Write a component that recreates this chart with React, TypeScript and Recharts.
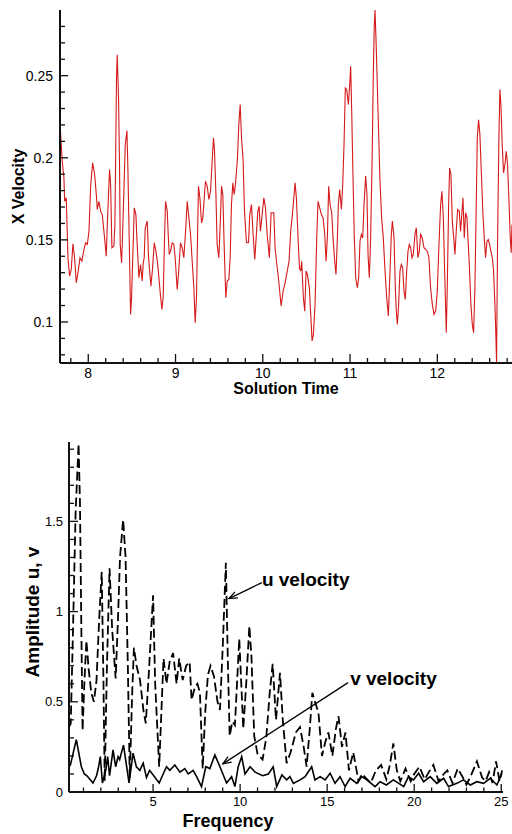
import React from 'react';
import { LineChart, Line, XAxis, YAxis, ReferenceLine, ReferenceDot } from 'recharts';

// ---------- Top chart: X Velocity vs Solution Time ----------
const solutionTime = [
  7.676, 7.702, 7.721, 7.729, 7.748, 7.767, 7.786, 7.805, 7.824, 7.843,
  7.863, 7.885, 7.905, 7.927, 7.947, 7.969, 7.989, 8.008, 8.027, 8.05,
  8.073, 8.095, 8.103, 8.122, 8.141, 8.16, 8.187, 8.206, 8.218, 8.244,
  8.256, 8.271, 8.294, 8.305, 8.317, 8.324, 8.332, 8.347, 8.359, 8.366,
  8.382, 8.393, 8.408, 8.424, 8.443, 8.454, 8.469, 8.485, 8.496, 8.511,
  8.527, 8.546, 8.557, 8.58, 8.599, 8.618, 8.63, 8.641, 8.653, 8.676,
  8.691, 8.718, 8.737, 8.756, 8.775, 8.794, 8.813, 8.828, 8.844, 8.859,
  8.874, 8.886, 8.905, 8.916, 8.928, 8.943, 8.962, 8.981, 8.996, 9.019,
  9.034, 9.057, 9.076, 9.095, 9.115, 9.134, 9.153, 9.172, 9.191, 9.21,
  9.225, 9.24, 9.252, 9.263, 9.279, 9.298, 9.313, 9.328, 9.343, 9.363,
  9.382, 9.401, 9.42, 9.435, 9.447, 9.462, 9.477, 9.496, 9.515, 9.527,
  9.542, 9.557, 9.576, 9.592, 9.611, 9.626, 9.641, 9.657, 9.672, 9.687,
  9.71, 9.725, 9.741, 9.756, 9.775, 9.79, 9.813, 9.836, 9.851, 9.87,
  9.889, 9.908, 9.924, 9.943, 9.958, 9.973, 9.989, 10.012, 10.031, 10.05,
  10.076, 10.095, 10.126, 10.141, 10.157, 10.179, 10.21, 10.233, 10.256,
  10.301, 10.32, 10.339, 10.359, 10.37, 10.385, 10.404, 10.42, 10.435, 10.446,
  10.465, 10.481, 10.496, 10.511, 10.534, 10.549, 10.565, 10.58, 10.599, 10.618,
  10.633, 10.652, 10.672, 10.691, 10.71, 10.725, 10.74, 10.755, 10.771, 10.79,
  10.805, 10.824, 10.839, 10.855, 10.866, 10.881, 10.901, 10.916, 10.931, 10.946,
  10.962, 10.981, 10.996, 11.007, 11.019, 11.034, 11.049, 11.065, 11.084, 11.099,
  11.114, 11.13, 11.145, 11.16, 11.179, 11.194, 11.206, 11.221, 11.236, 11.252,
  11.267, 11.278, 11.286, 11.297, 11.309, 11.324, 11.343, 11.362, 11.381, 11.401,
  11.42, 11.439, 11.458, 11.473, 11.485, 11.504, 11.519, 11.53, 11.542, 11.557,
  11.572, 11.588, 11.603, 11.618, 11.633, 11.649, 11.664, 11.679, 11.694, 11.71,
  11.725, 11.744, 11.759, 11.778, 11.794, 11.809, 11.828, 11.847, 11.866, 11.885,
  11.904, 11.923, 11.943, 11.962, 11.981, 12.0, 12.019, 12.038, 12.053, 12.069,
  12.084, 12.103, 12.114, 12.13, 12.141, 12.156, 12.172, 12.191, 12.202, 12.217,
  12.233, 12.252, 12.267, 12.278, 12.294, 12.309, 12.324, 12.34, 12.355, 12.37,
  12.385, 12.401, 12.416, 12.431, 12.446, 12.458, 12.473, 12.488, 12.504, 12.523,
  12.538, 12.553, 12.569, 12.584, 12.599, 12.614, 12.63, 12.645, 12.66, 12.672,
  12.679, 12.691, 12.706, 12.717, 12.729, 12.744, 12.759, 12.775, 12.79, 12.805,
  12.82, 12.836, 12.847, 12.856,
];

const xVelocity = [
  0.2212, 0.1979, 0.1877, 0.1735, 0.1756, 0.1391, 0.1279, 0.132, 0.1476, 0.1391,
  0.1239, 0.131, 0.1391, 0.137, 0.1431, 0.1482, 0.1472, 0.1553, 0.1827, 0.1969,
  0.1898, 0.1756, 0.1685, 0.1735, 0.1675, 0.1654, 0.1512, 0.1401, 0.1594, 0.1928,
  0.1837, 0.1452, 0.1462, 0.1594, 0.2161, 0.2496, 0.2628, 0.2364, 0.1918, 0.1472,
  0.136, 0.1533, 0.1796, 0.208, 0.2165, 0.1938, 0.1512, 0.1046, 0.1147, 0.1411,
  0.1695, 0.1654, 0.1512, 0.1269, 0.135, 0.1249, 0.136, 0.1391, 0.1573, 0.1614,
  0.1391, 0.1218, 0.133, 0.1482, 0.1431, 0.136, 0.1249, 0.1158, 0.1076, 0.1158,
  0.1512, 0.1735, 0.1675, 0.1533, 0.1411, 0.1431, 0.1482, 0.1472, 0.1391, 0.1198,
  0.1289, 0.1482, 0.1452, 0.1391, 0.1553, 0.1735, 0.1634, 0.1533, 0.137, 0.1208,
  0.0995, 0.1147, 0.1512, 0.1827, 0.1756, 0.1604, 0.1634, 0.1746, 0.1857, 0.1827,
  0.1746, 0.1796, 0.1979, 0.2121, 0.204, 0.1796, 0.1472, 0.1391, 0.1634, 0.1827,
  0.1776, 0.1472, 0.1147, 0.1249, 0.1259, 0.1391, 0.1715, 0.1847, 0.1776, 0.1837,
  0.1999, 0.2202, 0.2324, 0.2121, 0.1979, 0.1675, 0.1482, 0.1482, 0.1654, 0.1715,
  0.1533, 0.1381, 0.1512, 0.1675, 0.1705, 0.1553, 0.1634, 0.1756, 0.1695, 0.1533,
  0.1391, 0.1665, 0.1665, 0.1452, 0.137, 0.1269, 0.1097, 0.1188, 0.1239,
  0.137, 0.1553, 0.1654, 0.1776, 0.1847, 0.1756, 0.1512, 0.133, 0.131, 0.137,
  0.1147, 0.1066, 0.131, 0.1289, 0.1208, 0.1046, 0.0884, 0.0924, 0.1107, 0.1512,
  0.1735, 0.1695, 0.1654, 0.1634, 0.1533, 0.137, 0.1512, 0.1827, 0.1715, 0.1665,
  0.1512, 0.137, 0.1289, 0.1512, 0.1715, 0.1806, 0.1685, 0.1837, 0.208, 0.2425,
  0.2415, 0.2324, 0.2445, 0.2557, 0.2283, 0.1877, 0.1512, 0.1269, 0.1208, 0.1269,
  0.1492, 0.1533, 0.1512, 0.1715, 0.1888, 0.1776, 0.1411, 0.1269, 0.1512, 0.1959,
  0.2526, 0.281, 0.29, 0.2729, 0.2506, 0.2222, 0.1857, 0.1634, 0.1512, 0.131,
  0.1147, 0.1036, 0.131, 0.1533, 0.1614, 0.1512, 0.1208, 0.1066, 0.0985, 0.1107,
  0.131, 0.135, 0.133, 0.1188, 0.1137, 0.131, 0.1431, 0.1472, 0.1452, 0.1391,
  0.1411, 0.1533, 0.1573, 0.1391, 0.1431, 0.1533, 0.1512, 0.1452, 0.1442, 0.1431,
  0.1391, 0.1208, 0.1107, 0.1046, 0.1066, 0.1188, 0.1472, 0.1715, 0.1796, 0.1634,
  0.131, 0.0934, 0.1208, 0.1715, 0.1938, 0.1898, 0.1614, 0.1492, 0.1411, 0.1553,
  0.1685, 0.1675, 0.1553, 0.1634, 0.1756, 0.1512, 0.1665, 0.1634, 0.1472, 0.131,
  0.1107, 0.0985, 0.0934, 0.1208, 0.1715, 0.2121, 0.2232, 0.2141, 0.1918, 0.1654,
  0.1512, 0.1391, 0.1492, 0.1502, 0.1472, 0.1431, 0.1391, 0.131, 0.1107, 0.0904,
  0.0752, 0.1512, 0.2121, 0.2415, 0.2324, 0.208, 0.1908, 0.1959, 0.204, 0.1959,
  0.1756, 0.1512, 0.1421, 0.1594,
];

const topXTicks = [
  7.8, 8, 8.2, 8.4, 8.6, 8.8, 9, 9.2, 9.4, 9.6, 9.8, 10, 10.2, 10.4, 10.6, 10.8,
  11, 11.2, 11.4, 11.6, 11.8, 12, 12.2, 12.4, 12.6, 12.8,
];
const topYTicks = [
  0.08, 0.09, 0.1, 0.11, 0.12, 0.13, 0.14, 0.15, 0.16, 0.17, 0.18, 0.19, 0.2,
  0.21, 0.22, 0.23, 0.24, 0.25, 0.26, 0.27, 0.28,
];

// ---------- Bottom chart: Amplitude vs Frequency ----------
const frequencyU = [
  0.17, 0.27, 0.4, 0.55, 0.72, 0.8, 0.88, 0.95, 1.05, 1.17,
  1.3, 1.45, 1.6, 1.75, 1.9, 2.05, 2.15, 2.22, 2.35, 2.5,
  2.65, 2.85, 2.98, 3.1, 3.28, 3.42, 3.55, 3.66, 3.8, 3.9,
  4.05, 4.25, 4.45, 4.58, 4.75, 5.0, 5.12, 5.35, 5.5, 5.6,
  5.77, 5.95, 6.15, 6.35, 6.5, 6.7, 6.9, 7.1, 7.21, 7.4,
  7.55, 7.69, 7.85, 8.0, 8.15, 8.3, 8.5, 8.7, 8.84, 9.0,
  9.18, 9.3, 9.4, 9.55, 9.7, 9.95, 10.18, 10.35, 10.53, 10.65,
  10.81, 11.0, 11.29, 11.5, 11.7, 11.87, 12.06, 12.29, 12.45, 12.67,
  12.9, 13.2, 13.44, 13.65, 13.82, 14.0, 14.15, 14.3, 14.5, 14.7,
  14.9, 15.07, 15.3, 15.5, 15.65, 15.85, 16.05, 16.25, 16.5, 16.8,
  17.0, 17.2, 17.5, 17.8, 18.1, 18.4, 18.6, 18.8, 19.0, 19.2,
  19.5, 19.8, 20.0, 20.3, 20.6, 20.9, 21.1, 21.4, 21.7, 21.9,
  22.2, 22.5, 22.8, 23.0, 23.3, 23.6, 23.9, 24.1, 24.3, 24.5,
  24.7, 24.9, 25.05,
];
const amplitudeU = [
  0.36, 0.38, 0.9, 1.55, 1.93, 1.6, 0.9, 0.34, 0.6, 0.84,
  0.68, 0.55, 0.5, 0.62, 0.95, 1.22, 0.6, 0.06, 0.7, 1.24,
  0.9, 0.63, 0.95, 1.3, 1.51, 1.3, 0.7, 0.08, 0.55, 0.8,
  0.7, 0.62, 0.45, 0.38, 0.65, 1.09, 0.6, 0.14, 0.5, 0.74,
  0.6, 0.72, 0.77, 0.6, 0.74, 0.62, 0.7, 0.72, 0.51, 0.58,
  0.6, 0.55, 0.13, 0.45, 0.65, 0.7, 0.64, 0.5, 0.455, 0.8,
  1.27, 0.7, 0.31, 0.39, 0.37, 0.85, 0.35, 0.6, 0.92, 0.75,
  0.31, 0.21, 0.18, 0.3, 0.55, 0.71, 0.4, 0.66, 0.4, 0.16,
  0.22, 0.33, 0.36, 0.25, 0.14, 0.35, 0.55, 0.5, 0.44, 0.2,
  0.28, 0.33, 0.2, 0.35, 0.42, 0.25, 0.33, 0.12, 0.22, 0.06,
  0.1, 0.08, 0.05, 0.12, 0.15, 0.07, 0.15, 0.27, 0.12, 0.06,
  0.13, 0.06, 0.1, 0.14, 0.07, 0.12, 0.15, 0.06, 0.1, 0.12,
  0.05, 0.13, 0.08, 0.04, 0.1, 0.17, 0.08, 0.06, 0.11, 0.05,
  0.17, 0.06, 0.12,
];

const frequencyV = [
  0.17, 0.25, 0.59, 0.88, 1.05, 1.2, 1.55, 1.75, 1.85, 1.97,
  2.09, 2.28, 2.39, 2.5, 2.7, 2.85, 2.99, 3.08, 3.3, 3.62,
  3.85, 4.04, 4.24, 4.43, 4.62, 4.8, 5.35, 5.58, 5.77, 5.96,
  6.25, 6.54, 6.82, 7.02, 7.3, 7.5, 7.78, 8.03, 8.26, 8.55,
  8.84, 9.22, 9.51, 9.7, 9.89, 10.09, 10.28, 10.57, 10.86, 11.3,
  11.62, 11.9, 12.1, 12.4, 12.67, 12.86, 13.06, 13.44, 13.73, 14.11,
  14.3, 14.6, 14.88, 15.17, 15.45, 15.74, 16.03, 16.32, 16.7, 16.99,
  17.28, 17.75, 18.04, 18.4, 18.8, 19.4, 19.67, 19.96, 20.25, 20.54,
  20.92, 21.3, 21.69, 21.97, 22.45, 22.83, 23.22, 23.6, 23.98, 24.37,
  24.75, 25.04,
];
const amplitudeV = [
  0.14, 0.15, 0.29, 0.14, 0.1, 0.09, 0.05, 0.09, 0.13, 0.196,
  0.05, 0.12, 0.196, 0.09, 0.233, 0.14, 0.196, 0.18, 0.26, 0.05,
  0.215, 0.14, 0.12, 0.16, 0.08, 0.12, 0.05, 0.1, 0.14, 0.12,
  0.15, 0.11, 0.13, 0.1, 0.12, 0.085, 0.03, 0.14, 0.13, 0.205,
  0.14, 0.05, 0.085, 0.03, 0.14, 0.196, 0.1, 0.14, 0.11, 0.09,
  0.1, 0.14, 0.03, 0.095, 0.067, 0.085, 0.048, 0.067, 0.085, 0.14,
  0.067, 0.085, 0.067, 0.104, 0.048, 0.085, 0.03, 0.076, 0.048, 0.085,
  0.067, 0.03, 0.057, 0.039, 0.067, 0.03, 0.085, 0.067, 0.104, 0.057,
  0.085, 0.048, 0.076, 0.03, 0.048, 0.067, 0.039, 0.057, 0.048, 0.076,
  0.039, 0.104,
];

const botXTicks = [
  1, 2, 3, 4, 5, 6, 7, 8, 9, 10, 11, 12, 13, 14, 15, 16, 17, 18, 19, 20, 21, 22, 23, 24, 25,
];
const botYTicks = [
  0, 0.1, 0.2, 0.3, 0.4, 0.5, 0.6, 0.7, 0.8, 0.9, 1, 1.1, 1.2, 1.3, 1.4, 1.5, 1.6, 1.7, 1.8, 1.9,
];

// annotation anchors (data coordinates)
const uLabelPos = { f: 11.25, a: 1.144 };
const uArrow = [{ f: 11.25, a: 1.161 }, { f: 9.36, a: 1.072 }];
const vLabelPos = { f: 16.32, a: 0.594 };
const vArrow = [{ f: 16.2, a: 0.606 }, { f: 9.01, a: 0.156 }];

const topData = solutionTime.map((t, i) => ({ t, v: xVelocity[i] }));
const uData = frequencyU.map((f, i) => ({ f, a: amplitudeU[i] }));
const vData = frequencyV.map((f, i) => ({ f, a: amplitudeV[i] }));

const FONT = '"Liberation Sans", Arial, Helvetica, sans-serif';
const AXIS = '#111';

const near = (v: number, step: number) => Math.abs(v / step - Math.round(v / step)) < 1e-6;
const fmt = (v: number) => String(Math.round(v * 1000) / 1000);

const makeXTick = (step: number, fontSize: number, majLen: number, minLen: number, dy: number) =>
  (props: any) => {
    const { x, y, payload } = props;
    const major = near(payload.value, step);
    return (
      <g>
        <line x1={x} y1={y} x2={x} y2={y - (major ? majLen : minLen)} stroke={AXIS} strokeWidth={1.3} />
        {major && (
          <text x={x} y={y + dy} textAnchor="middle" fontSize={fontSize} fontFamily={FONT} fill="#000">
            {fmt(payload.value)}
          </text>
        )}
      </g>
    );
  };

const makeYTick = (step: number, fontSize: number, majLen: number, minLen: number, gap: number) =>
  (props: any) => {
    const { x, y, payload } = props;
    const major = near(payload.value, step);
    return (
      <g>
        <line x1={x} y1={y} x2={x + (major ? majLen : minLen)} y2={y} stroke={AXIS} strokeWidth={1.3} />
        {major && (
          <text x={x - gap} y={y + fontSize * 0.36} textAnchor="end" fontSize={fontSize} fontFamily={FONT} fill="#000">
            {fmt(payload.value)}
          </text>
        )}
      </g>
    );
  };

const topXTick = makeXTick(1, 14, 9, 5, 15);
const topYTick = makeYTick(0.05, 14, 8, 5, 7);
const botXTick = makeXTick(5, 13, 8, 4.5, 14);
const botYTick = makeYTick(0.5, 13, 9, 5, 6);

const topXLabel = (p: any) => {
  const vb = p.viewBox || { x: 60, y: 363, width: 452, height: 37 };
  return (
    <text x={vb.x + vb.width / 2} y={vb.y + 31} textAnchor="middle" fontSize={16} fontWeight="bold" fontFamily={FONT} fill="#000">
      Solution Time
    </text>
  );
};
const topYLabel = (p: any) => {
  const vb = p.viewBox || { x: 0, y: 10, width: 60, height: 353 };
  const cx = vb.x + 18;
  const cy = vb.y + vb.height / 2;
  return (
    <text x={cx} y={cy} transform={`rotate(-90 ${cx} ${cy})`} textAnchor="middle" dominantBaseline="central" fontSize={16} fontWeight="bold" fontFamily={FONT} fill="#000">
      X Velocity
    </text>
  );
};
const botXLabel = (p: any) => {
  const vb = p.viewBox || { x: 69, y: 372, width: 434, height: 42 };
  return (
    <text x={vb.x + 159} y={vb.y + 35} textAnchor="middle" fontSize={18} fontWeight="bold" fontFamily={FONT} fill="#000">
      Frequency
    </text>
  );
};
const botYLabel = (p: any) => {
  const vb = p.viewBox || { x: 0, y: 22, width: 69, height: 350 };
  const cx = vb.x + 32;
  const cy = vb.y + vb.height / 2 - 5;
  return (
    <text x={cx} y={cy} transform={`rotate(-90 ${cx} ${cy})`} textAnchor="middle" dominantBaseline="central" fontSize={19} fontWeight="bold" fontFamily={FONT} fill="#000">
      Amplitude u, v
    </text>
  );
};

const arrowShape = (p: any) => {
  const { x1, y1, x2, y2 } = p;
  const ang = Math.atan2(y2 - y1, x2 - x1);
  const L = 9;
  const w = 0.38;
  const ax = x2 - L * Math.cos(ang - w);
  const ay = y2 - L * Math.sin(ang - w);
  const bx = x2 - L * Math.cos(ang + w);
  const by = y2 - L * Math.sin(ang + w);
  return (
    <g>
      <line x1={x1} y1={y1} x2={x2} y2={y2} stroke="#000" strokeWidth={1.3} />
      <polyline points={`${ax},${ay} ${x2},${y2} ${bx},${by}`} fill="none" stroke="#000" strokeWidth={1.3} />
    </g>
  );
};

const textShape = (label: string) => (p: any) => (
  <text x={p.cx} y={p.cy} fontSize={19} fontWeight="bold" fontFamily={FONT} fill="#000">
    {label}
  </text>
);

export default function App() {
  return (
    <div style={{ position: 'absolute', left: 0, top: 0, width: 512, height: 834, background: '#fff', overflow: 'hidden' }}>
      <div style={{ position: 'absolute', left: 0, top: 0 }}>
        <LineChart width={512} height={400} data={topData} margin={{ top: 10, right: 0, bottom: 0, left: 0 }}>
          <XAxis
            dataKey="t"
            type="number"
            domain={[7.676, 12.856]}
            allowDataOverflow
            ticks={topXTicks}
            interval={0}
            height={37}
            tickSize={0}
            tickMargin={0}
            tickLine={false}
            axisLine={{ stroke: AXIS, strokeWidth: 2 }}
            tick={topXTick}
            label={topXLabel}
          />
          <YAxis
            type="number"
            domain={[0.075, 0.29]}
            allowDataOverflow
            ticks={topYTicks}
            interval={0}
            width={60}
            tickSize={0}
            tickMargin={0}
            tickLine={false}
            axisLine={{ stroke: AXIS, strokeWidth: 2 }}
            tick={topYTick}
            label={topYLabel}
          />
          <Line dataKey="v" type="linear" stroke="#d41a1a" strokeWidth={1.1} dot={false} isAnimationActive={false} />
        </LineChart>
      </div>
      <div style={{ position: 'absolute', left: 0, top: 420 }}>
        <LineChart width={512} height={414} margin={{ top: 22, right: 9, bottom: 0, left: 0 }}>
          <XAxis
            dataKey="f"
            type="number"
            domain={[0.17, 25.1]}
            allowDataOverflow
            ticks={botXTicks}
            interval={0}
            height={42}
            tickSize={0}
            tickMargin={0}
            tickLine={false}
            axisLine={{ stroke: AXIS, strokeWidth: 2 }}
            tick={botXTick}
            label={botXLabel}
          />
          <YAxis
            type="number"
            domain={[0, 1.94]}
            allowDataOverflow
            ticks={botYTicks}
            interval={0}
            width={69}
            tickSize={0}
            tickMargin={0}
            tickLine={false}
            axisLine={{ stroke: AXIS, strokeWidth: 2 }}
            tick={botYTick}
            label={botYLabel}
          />
          <Line data={uData} dataKey="a" type="linear" stroke="#000" strokeWidth={1.8} strokeDasharray="9 4" dot={false} isAnimationActive={false} />
          <Line data={vData} dataKey="a" type="linear" stroke="#000" strokeWidth={1.6} dot={false} isAnimationActive={false} />
          <ReferenceLine segment={[{ x: uArrow[0].f, y: uArrow[0].a }, { x: uArrow[1].f, y: uArrow[1].a }]} shape={arrowShape} />
          <ReferenceLine segment={[{ x: vArrow[0].f, y: vArrow[0].a }, { x: vArrow[1].f, y: vArrow[1].a }]} shape={arrowShape} />
          <ReferenceDot x={uLabelPos.f} y={uLabelPos.a} r={0} shape={textShape('u velocity')} />
          <ReferenceDot x={vLabelPos.f} y={vLabelPos.a} r={0} shape={textShape('v velocity')} />
        </LineChart>
      </div>
    </div>
  );
}
